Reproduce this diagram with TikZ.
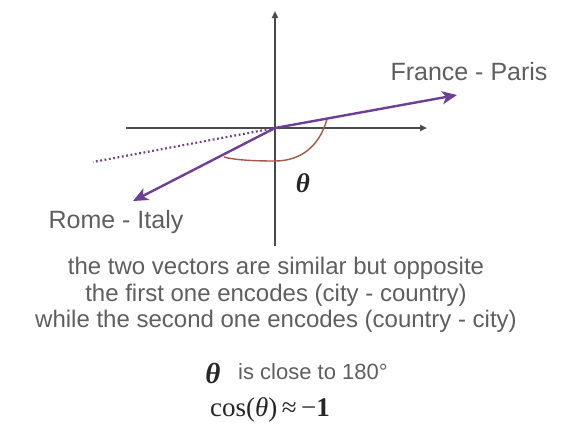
\documentclass[tikz,border=0pt]{standalone}
\usepackage{fontspec}
\setmainfont{Liberation Sans}
\newfontfamily\tms{Liberation Serif}
\usetikzlibrary{arrows.meta}
\definecolor{axisgray}{HTML}{4A4A4A}
\definecolor{vecpurple}{HTML}{6E3F97}
\definecolor{arcred}{HTML}{A85548}
\definecolor{txtgray}{HTML}{5E5E5E}
\tikzset{
  axis/.style={draw=axisgray, line width=1.8pt, -{Triangle[length=7pt,width=6pt]}},
  vec/.style={draw=vecpurple, line width=2.4pt, -{Stealth[length=15pt,width=13pt,inset=4pt]}},
  ext/.style={draw=vecpurple, line width=2.2pt, dash pattern=on 1.8pt off 2.6pt},
  anglearc/.style={draw=arcred, line width=1.4pt},
  lbl/.style={text=txtgray, font=\fontsize{25}{26}\selectfont, inner sep=0pt},
  body/.style={text=txtgray, font=\fontsize{24}{26.5}\selectfont, align=center, inner sep=0pt},
  mth/.style={text=black!85, inner sep=0pt}
}
\begin{document}
\begin{tikzpicture}[x=1pt,y=-1pt]
\useasboundingbox (0,0) rectangle (564,432);
\coordinate (O) at (275,128);
\coordinate (ytop) at (275,11);
\coordinate (ybot) at (275,246);
\coordinate (xleft) at (126,128);
\coordinate (xright) at (427,128);
\coordinate (F) at (457,95);
\coordinate (R) at (133,201);
\coordinate (D) at (93,162);
% axes
\draw[axis] (ybot) -- (ytop);
\draw[axis] (xleft) -- (xright);
% extension of first vector
\draw[ext] (O) -- (D);
% angle arc
\coordinate (a1) at (327,119);
\coordinate (a2) at (275,161);
\coordinate (a3) at (224,157);
\draw[anglearc] (a1) .. controls (319,148) and (299,161) .. (a2) .. controls (254,161) and (234,160) .. (a3);
% vectors
\draw[vec] (O) -- (F);
\draw[vec] (O) -- (R);
% labels
\node[lbl] (france) at (469,72) {France - Paris};
\node[lbl] (rome) at (116,222) {Rome - Italy};
\node[mth, font=\tms\bfseries\itshape\fontsize{27}{27}\selectfont] (theta) at (303,183) {θ};
\node[body] (expl) at (276,295) {the two vectors are similar but opposite\\the first one encodes (city - country)\\while the second one encodes (country - city)};
\node[mth, font=\tms\bfseries\itshape\fontsize{29}{29}\selectfont] (theta2) at (213,373) {θ};
\node[text=txtgray, inner sep=0pt, font=\fontsize{22}{22}\selectfont, anchor=west] (close) at (238,372) {is close to 180°};
\node[mth, font=\tms\bfseries\fontsize{27}{27}\selectfont] (cos) at (270,410) {\mdseries cos(\textit{θ})\,≈\,−\bfseries 1};
\end{tikzpicture}
\end{document}
